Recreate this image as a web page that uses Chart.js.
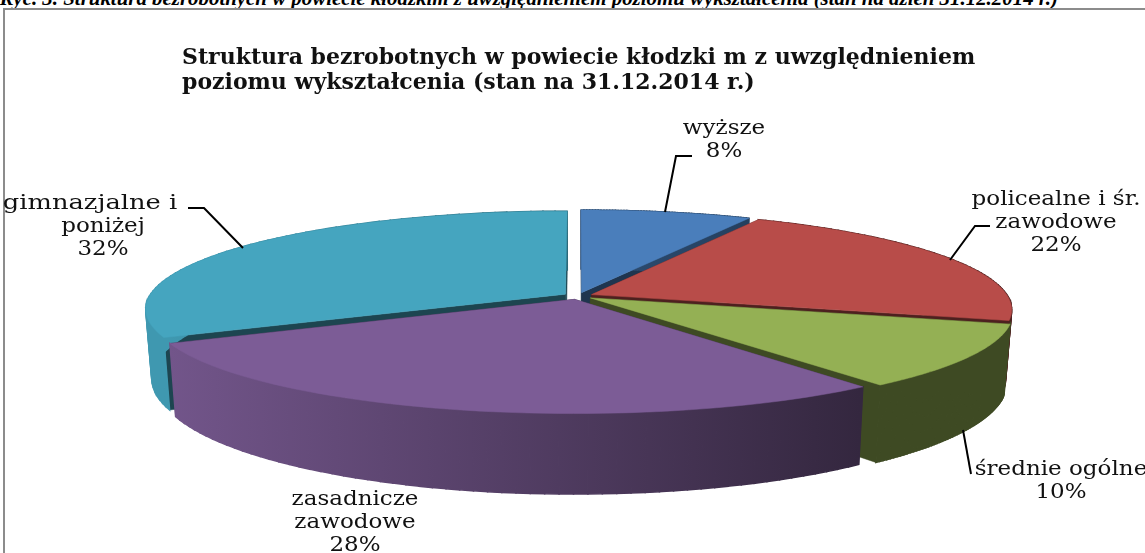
<!DOCTYPE html>
<html lang="pl">
<head>
<meta charset="utf-8">
<title>Struktura bezrobotnych</title>
<script src="https://cdn.jsdelivr.net/npm/chart.js@4"></script>
<style>
  html, body { margin: 0; padding: 0; background: #fff; overflow: hidden; }
  #page { position: relative; width: 1145px; height: 553px; overflow: hidden; }
  #caption { position: absolute; right: 87px; top: -14px; white-space: nowrap;
    font: italic bold 20.9px "Liberation Serif", serif; color: #000; }
  #frame { position: absolute; left: 3px; top: 8px; width: 1160px; height: 600px;
    border: 2px solid #8c8c8c; box-sizing: border-box; }
  #myChart { position: absolute; left: 0; top: 0; }
</style>
</head>
<body>
<div id="page">
  <div id="caption">Ryc. 3. Struktura bezrobotnych w powiecie kłodzkim z uwzględnieniem poziomu wykształcenia (stan na dzień 31.12.2014 r.)</div>
  <div id="frame"></div>
  <canvas id="myChart" width="1145" height="553"></canvas>
</div>
<script>
const categories = [
    ['wyższe'],
    ['policealne i śr.', 'zawodowe'],
    ['średnie ogólne'],
    ['zasadnicze', 'zawodowe'],
    ['gimnazjalne i', 'poniżej']
];
const shares = [7.6, 21.6, 10.4, 28.4, 32];
const sliceColors = ['#4a7ebb', '#b84c49', '#94b054', '#7c5c96', '#45a5bf'];
const titleLines = [
    'Struktura bezrobotnych w powiecie kłodzki m z uwzględnieniem',
    'poziomu wykształcenia (stan na 31.12.2014 r.)'
];

// wycinki rysowane od tylu do przodu
const drawOrder = [0, 1, 4, 2, 3];

// rzut perspektywiczny plaszczyzny kola na ekran
const view = { cx: 578, cy: 296, rx: 416, ry: 96, tilt: 0.15, depth: 68, shrink: 0.986 };

// polozenie opisow: srodek tekstu, linia bazowa pierwszego wiersza, linia odniesienia
const callouts = [
    { x: 724, y: 134, line: [[692, 156], [676, 156], [665, 212]] },
    { x: 1056, y: 205, line: [[990, 226], [975, 226], [950, 260]] },
    { x: 1061, y: 475, line: [[963, 430], [971, 474]] },
    { x: 355, y: 505, line: null },
    { x: 103, y: 209, shift: -13, stretch: 1.32, line: [[188, 208], [204, 208], [243, 248]] }
];

function shade(hex, f) {
    const n = parseInt(hex.slice(1), 16);
    const c = [n >> 16, (n >> 8) & 255, n & 255].map(v => Math.round(v * f));
    return 'rgb(' + c.join(',') + ')';
}

function project(u, v, low) {
    const w = 1 + view.tilt * v;
    let x = view.rx * u / w;
    let y = -view.ry * v / w;
    if (low) {
        x *= view.shrink;
        y += view.depth / w;
    }
    return [view.cx + x, view.cy + y];
}

function polygon(ctx, pts, fill, edge) {
    ctx.beginPath();
    pts.forEach((p, i) => i ? ctx.lineTo(p[0], p[1]) : ctx.moveTo(p[0], p[1]));
    ctx.closePath();
    ctx.fillStyle = fill;
    ctx.fill();
    ctx.strokeStyle = fill;
    ctx.lineWidth = edge || 0.5;
    ctx.stroke();
}

const pie3d = {
    id: 'pie3d',
    beforeDatasetDraw(chart) {
        const ctx = chart.ctx;
        const meta = chart.getDatasetMeta(0);
        drawOrder.forEach(i => {
            const arc = meta.data[i];
            const color = arc.options.backgroundColor;
            const r = arc.outerRadius;
            const mid = (arc.startAngle + arc.endAngle) / 2;
            const ox = Math.cos(mid) * arc.options.offset / r;
            const oy = Math.sin(mid) * arc.options.offset / r;
            const rimTop = [], rimLow = [];
            const steps = 60;
            for (let s = 0; s <= steps; s++) {
                const a = arc.startAngle + (arc.endAngle - arc.startAngle) * s / steps;
                const u = ox + Math.cos(a), v = -(oy + Math.sin(a));
                rimTop.push(project(u, v, false));
                rimLow.push(project(u, v, true));
            }
            const apexTop = project(ox, -oy, false);
            const apexLow = project(ox, -oy, true);

            // sciany przekroju
            const cut = shade(color, 0.42);
            polygon(ctx, [apexTop, rimTop[0], rimLow[0], apexLow], cut);
            polygon(ctx, [apexTop, rimTop[steps], rimLow[steps], apexLow], cut);

            // sciana boczna, jasniejsza z lewej
            const grad = ctx.createLinearGradient(170, 0, 860, 0);
            grad.addColorStop(0, shade(color, 0.92));
            grad.addColorStop(1, shade(color, 0.42));
            for (let s = 0; s < steps; s++) {
                polygon(ctx, [rimTop[s], rimTop[s + 1], rimLow[s + 1], rimLow[s]], grad, 1.5);
            }

            // wierzch
            polygon(ctx, [apexTop].concat(rimTop), color);
        });
        return false;
    },
    afterDatasetsDraw(chart) {
        const ctx = chart.ctx;
        ctx.save();
        ctx.strokeStyle = '#000';
        ctx.lineWidth = 2;
        ctx.fillStyle = '#111';
        ctx.font = '19.5px "DejaVu Serif", serif';
        ctx.textAlign = 'center';
        ctx.textBaseline = 'alphabetic';
        callouts.forEach((c, i) => {
            categories[i].concat(Math.round(shares[i]) + '%').forEach((t, k) => {
                const first = k === 0 && c.shift;
                ctx.save();
                ctx.translate(c.x + (first ? c.shift : 0), c.y + k * 23);
                ctx.scale(first ? c.stretch : 1.18, 1);
                ctx.fillText(t, 0, 0);
                ctx.restore();
            });
            if (c.line) {
                ctx.beginPath();
                c.line.forEach((p, k) => k ? ctx.lineTo(p[0], p[1]) : ctx.moveTo(p[0], p[1]));
                ctx.stroke();
            }
        });
        ctx.restore();
    }
};

new Chart(document.getElementById('myChart'), {
    type: 'pie',
    data: {
        labels: categories,
        datasets: [{
            data: shares,
            backgroundColor: sliceColors,
            borderWidth: 0,
            offset: 8,
            hoverOffset: 0
        }]
    },
    options: {
        responsive: false,
        animation: false,
        events: [],
        layout: { padding: { left: 182, top: 0, right: 0, bottom: 0 } },
        plugins: {
            legend: { display: false },
            tooltip: { enabled: false },
            title: {
                display: true,
                fullSize: false,
                align: 'start',
                text: titleLines,
                color: '#111',
                font: { family: '"DejaVu Serif", serif', size: 22, weight: 'bold', lineHeight: 1.14 },
                padding: { top: 46, bottom: 0 }
            }
        }
    },
    plugins: [pie3d]
});
</script>
</body>
</html>
